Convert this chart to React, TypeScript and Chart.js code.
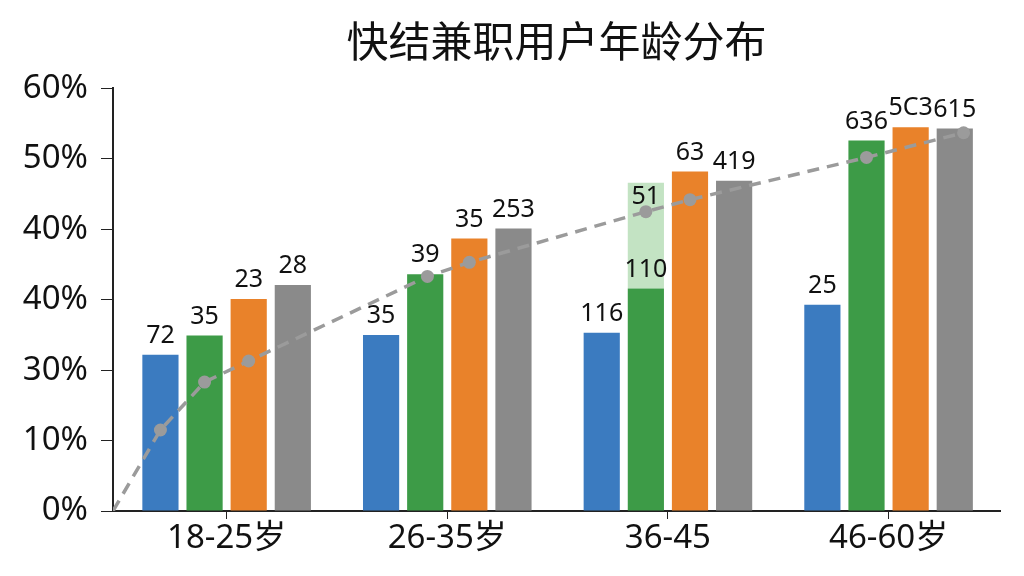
import React, { useEffect, useRef } from 'react';
import Chart from 'chart.js/auto';

const categories = ['18-25岁', '26-35岁', '36-45', '46-60岁'];
const yTickLabels = ['0%', '10%', '30%', '40%', '40%', '50%', '60%'];

const blueValues = [22.2, 25.0, 25.3, 29.3];
const greenValues = [24.9, 33.6, 31.6, 52.6];
const greenLightValues = [null, null, 15.0, null];
const orangeValues = [30.1, 38.7, 48.2, 54.5];
const grayValues = [32.1, 40.1, 46.9, 54.3];

const blueLabels = ['72', '35', '116', '25'];
const greenLabels = ['35', '39', '110', '636'];
const greenLightLabels = ['', '', '51', ''];
const orangeLabels = ['23', '35', '63', '5C3'];
const grayLabels = ['28', '253', '419', '615'];

const trendX = [-0.515, -0.3, -0.1, 0.1, 0.91, 1.1, 1.9, 2.1, 2.9, 3.34];
const trendY = [0, 11.5, 18.3, 21.3, 33.3, 35.3, 42.5, 44.2, 50.2, 53.7];

const FONT = '"Noto Sans", "Noto Sans CJK SC", sans-serif';

// bars sit on a linear x axis at the category index, so the trend line can share it
const toPoints = (values: (number | null)[]) => values.map((y, i) => ({ x: i, y }));

const barLabelPlugin = {
    id: 'barLabels',
    afterDatasetsDraw(chart: any) {
        const ctx = chart.ctx;
        ctx.save();
        ctx.font = `25px ${FONT}`;
        ctx.fillStyle = '#111';
        ctx.textAlign = 'center';
        ctx.textBaseline = 'middle';
        chart.data.datasets.forEach((ds: any, i: number) => {
            if (!ds.valueLabels) return;
            const meta = chart.getDatasetMeta(i);
            meta.data.forEach((el: any, j: number) => {
                const text = ds.valueLabels[j];
                if (!text) return;
                const y = ds.labelInside ? el.y + 14 : el.y - 19;
                ctx.fillText(text, el.x, y);
            });
        });
        ctx.restore();
    },
};

const App: React.FC = () => {
    const chartRef = useRef<HTMLCanvasElement>(null);
    const chartInstance = useRef<Chart | null>(null);

    useEffect(() => {
        if (!chartRef.current) return;
        if (chartInstance.current) {
            chartInstance.current.destroy();
        }
        const ctx = chartRef.current.getContext('2d');
        if (!ctx) return;

        const barCommon = {
            type: 'bar' as const,
            categoryPercentage: 0.8,
            barPercentage: 0.82,
            borderWidth: 0,
        };

        chartInstance.current = new Chart(ctx, {
            type: 'bar',
            data: {
                datasets: [
                    { ...barCommon, label: 'blue', data: toPoints(blueValues), backgroundColor: '#3b7bc0', stack: 's1', valueLabels: blueLabels } as any,
                    { ...barCommon, label: 'green', data: toPoints(greenValues), backgroundColor: '#3d9b47', stack: 's2', valueLabels: greenLabels } as any,
                    { ...barCommon, label: 'greenLight', data: toPoints(greenLightValues), backgroundColor: '#c3e3c3', stack: 's2', valueLabels: greenLightLabels, labelInside: true } as any,
                    { ...barCommon, label: 'orange', data: toPoints(orangeValues), backgroundColor: '#e9822a', stack: 's3', valueLabels: orangeLabels } as any,
                    { ...barCommon, label: 'gray', data: toPoints(grayValues), backgroundColor: '#8a8a8a', stack: 's4', valueLabels: grayLabels } as any,
                    {
                        type: 'line',
                        label: 'trend',
                        data: trendX.map((x, i) => ({ x, y: trendY[i] })),
                        borderColor: '#9b9b9b',
                        backgroundColor: '#9b9b9b',
                        borderWidth: 3.5,
                        borderDash: [12, 8],
                        pointRadius: trendX.map((_, i) => (i === 0 ? 0 : 6.5)),
                        pointBackgroundColor: '#9b9b9b',
                        pointBorderWidth: 0,
                        tension: 0,
                        fill: false,
                        order: -1,
                    } as any,
                ],
            },
            options: {
                responsive: true,
                maintainAspectRatio: false,
                animation: false,
                layout: { padding: { left: 0, right: 24, top: 0, bottom: 0 } },
                plugins: {
                    legend: { display: false },
                    tooltip: { enabled: false },
                    title: {
                        display: true,
                        text: '快结兼职用户年龄分布',
                        fullSize: false,
                        color: '#111',
                        font: { size: 42, family: '"Noto Sans CJK SC", sans-serif', weight: 'normal' },
                        padding: { top: 16, bottom: 22 },
                    },
                },
                scales: {
                    x: {
                        type: 'linear',
                        stacked: true,
                        offset: false,
                        min: -0.515,
                        max: 3.505,
                        afterBuildTicks: (scale: any) => {
                            scale.ticks = categories.map((_, i) => ({ value: i }));
                        },
                        grid: { display: true, drawOnChartArea: false, drawTicks: true, tickLength: 8, color: '#222', offset: false },
                        border: { display: true, color: '#222', width: 2 },
                        ticks: {
                            color: '#111',
                            font: { size: 33, family: FONT },
                            padding: 0,
                            maxRotation: 0,
                            autoSkip: false,
                            callback: (v: any) => categories[Math.round(Number(v))] ?? '',
                        },
                        afterFit: (scale: any) => {
                            scale.height = 65;
                        },
                    },
                    y: {
                        stacked: true,
                        min: 0,
                        max: 60,
                        grid: { display: true, drawOnChartArea: false, drawTicks: true, tickLength: 12, color: '#222' },
                        border: { display: true, color: '#222', width: 2 },
                        ticks: {
                            stepSize: 10,
                            color: '#111',
                            font: { size: 33, family: FONT },
                            padding: 13,
                            callback: (_v: any, i: number) => yTickLabels[i],
                        },
                        afterFit: (scale: any) => {
                            scale.width = 113;
                        },
                    },
                },
            },
            plugins: [barLabelPlugin],
        });

        return () => {
            chartInstance.current?.destroy();
        };
    }, []);

    return (
        <div style={{ position: 'absolute', left: 0, top: 0, width: 1024, height: 576, background: '#fff' }}>
            <canvas ref={chartRef}></canvas>
        </div>
    );
};

export default App;
